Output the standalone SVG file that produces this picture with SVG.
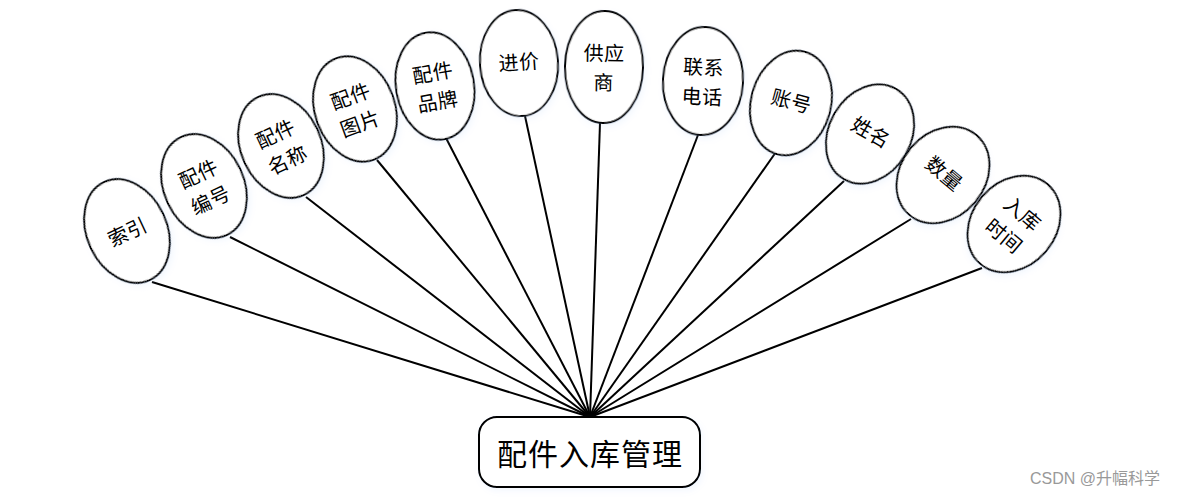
<svg xmlns="http://www.w3.org/2000/svg" width="1179" height="497" viewBox="0 0 1179 497">
<style>
.n ellipse{fill:#fff;stroke:#000;stroke-width:2;filter:url(#sh)}
.n text{font-family:"Noto Sans CJK SC","Liberation Sans",sans-serif;font-size:20px;letter-spacing:0.5px;text-anchor:middle;dominant-baseline:central;fill:#000}
#edges line{stroke:#000;stroke-width:2}
.main rect{fill:#fff;stroke:#000;stroke-width:2;filter:url(#sh)}
.main text{font-family:"Noto Sans CJK SC","Liberation Sans",sans-serif;font-size:30px;letter-spacing:1px;text-anchor:middle;dominant-baseline:central}
.wm{font-family:"Liberation Sans","Noto Sans CJK SC",sans-serif;font-size:16px;fill:#999}
</style>
<defs>
<filter id="sh" x="-20%" y="-20%" width="140%" height="140%">
<feGaussianBlur in="SourceAlpha" stdDeviation="3"/>
<feOffset dx="2" dy="3"/>
<feComponentTransfer><feFuncA type="linear" slope="0.12"/></feComponentTransfer>
<feColorMatrix type="matrix" values="0 0 0 0 0.3 0 0 0 0 0.5 0 0 0 0 0.9 0 0 0 1 0"/>
<feMerge><feMergeNode/><feMergeNode in="SourceGraphic"/></feMerge>
</filter>
</defs>
<g id="edges">
<line x1="152" y1="282" x2="590" y2="417"/>
<line x1="230" y1="237" x2="590" y2="417"/>
<line x1="306" y1="197" x2="590" y2="417"/>
<line x1="377" y1="160" x2="590" y2="417"/>
<line x1="446" y1="138" x2="590" y2="417"/>
<line x1="525" y1="116" x2="590" y2="417"/>
<line x1="600" y1="123" x2="590" y2="417"/>
<line x1="698" y1="135" x2="590" y2="417"/>
<line x1="776" y1="152" x2="590" y2="417"/>
<line x1="844" y1="181" x2="590" y2="417"/>
<line x1="911" y1="219" x2="590" y2="417"/>
<line x1="982" y1="268" x2="590" y2="417"/>
</g>
<g id="n1" class="n" transform="translate(127,231) rotate(-25)"><ellipse rx="40" ry="54"/><text>索引</text></g>
<g id="n2" class="n" transform="translate(204,186) rotate(-25)"><ellipse rx="40" ry="54"/><text y="-14.5">配件</text><text y="14.5">编号</text></g>
<g id="n3" class="n" transform="translate(281,146) rotate(-25)"><ellipse rx="40" ry="54"/><text y="-14.5">配件</text><text y="14.5">名称</text></g>
<g id="n4" class="n" transform="translate(355,109) rotate(-20)"><ellipse rx="40" ry="54"/><text y="-14.5">配件</text><text y="14.5">图片</text></g>
<g id="n5" class="n" transform="translate(435,86) rotate(-10)"><ellipse rx="39" ry="54"/><text y="-14.5">配件</text><text y="14.5">品牌</text></g>
<g id="n6" class="n" transform="translate(519,63) rotate(-4)"><ellipse rx="39" ry="53"/><text y="-2">进价</text></g>
<g id="n7" class="n" transform="translate(604,67) rotate(1)"><ellipse rx="39" ry="56"/><text y="-15">供应</text><text y="14.5">商</text></g>
<g id="n8" class="n" transform="translate(703,81) rotate(3)"><ellipse rx="40" ry="54"/><text y="-15">联系</text><text y="14.5">电话</text></g>
<g id="n9" class="n" transform="translate(791,103) rotate(15)"><ellipse rx="40" ry="53"/><text y="-3">账号</text></g>
<g id="n10" class="n" transform="translate(870,134) rotate(30)"><ellipse rx="41" ry="52"/><text y="-3">姓名</text></g>
<g id="n11" class="n" transform="translate(943,175) rotate(40)"><ellipse rx="42" ry="52"/><text y="-3">数量</text></g>
<g id="n12" class="n" transform="translate(1014,224) rotate(40)"><ellipse rx="42" ry="52"/><text y="-14.5">入库</text><text y="14.5">时间</text></g>
<g id="main" class="main"><rect x="479" y="417" width="221" height="70" rx="18"/><text x="590" y="452">配件入库管理</text></g>
<text class="wm" x="1030" y="484">CSDN @升幅科学</text>
</svg>
